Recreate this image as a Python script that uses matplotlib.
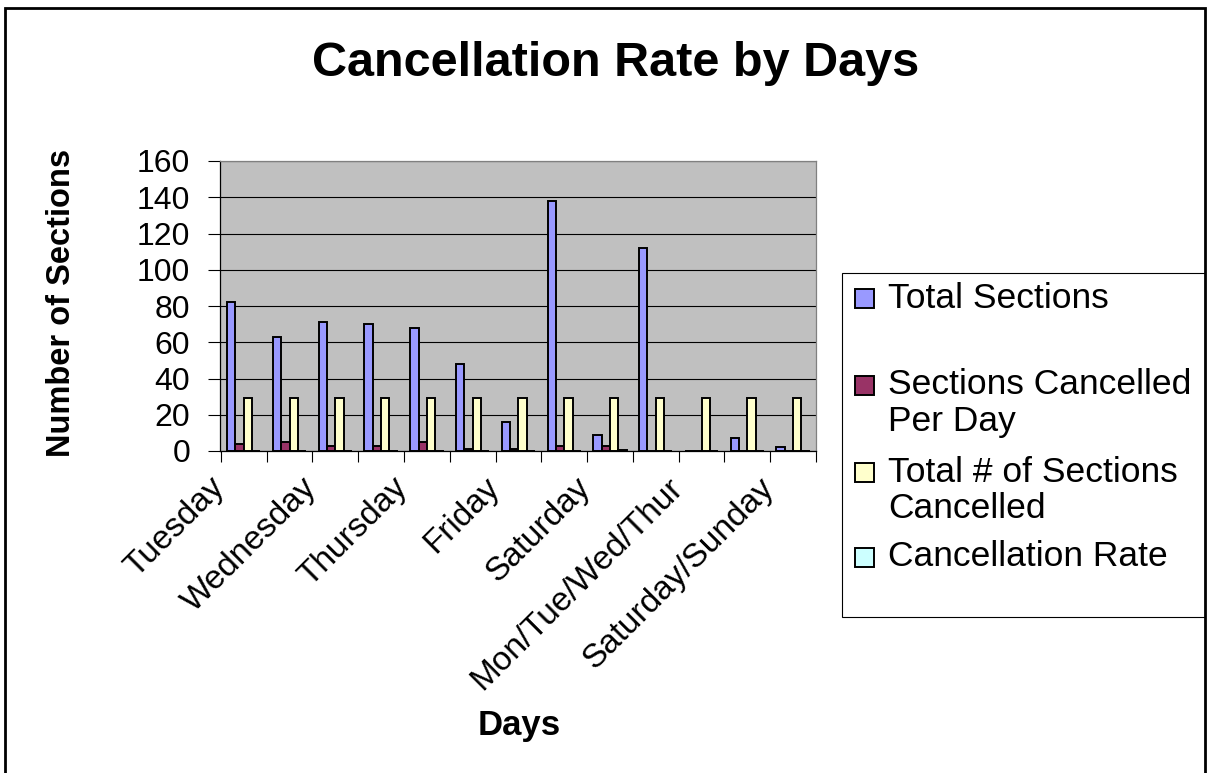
import numpy as np
import matplotlib.pyplot as plt
from matplotlib.patches import Rectangle

plt.rcParams['font.family'] = ['Liberation Sans', 'DejaVu Sans']

# only every other category carries a visible label in the original chart
day_labels = ['Tuesday', 'Wednesday', 'Thursday', 'Friday', 'Saturday',
              'Mon/Tue/Wed/Thur', 'Saturday/Sunday']
total_sections = [82, 63, 71, 70, 68, 48, 16, 138, 9, 112, 0, 7, 2]
cancelled_per_day = [4, 5, 3, 3, 5, 1, 1, 3, 3, 0, 0, 0, 0]
total_cancelled = [29, 29, 29, 29, 29, 29, 29, 29, 29, 29, 29, 29, 29]
cancel_rate = [0.05, 0.08, 0.04, 0.04, 0.07, 0.02, 0.06, 0.02, 0.33, 0, 0, 0, 0]

series_names = ['Total Sections', 'Sections Cancelled\nPer Day',
                'Total # of Sections\nCancelled', 'Cancellation Rate']
colors = ['#9999FF', '#993366', '#FFFFCC', '#CCFFFF']

W, H = 1209, 773
fig = plt.figure(figsize=(W / 100, H / 100), dpi=100)


def fx(px):
    return px / W


def fy(py):
    return 1 - py / H


ax = fig.add_axes([fx(220), fy(451), (816 - 220) / W, (451 - 161) / H])
ax.set_facecolor('#C0C0C0')

x = np.arange(len(total_sections))
width = 1 / 5.5
all_series = [total_sections, cancelled_per_day, total_cancelled, cancel_rate]
for k, (vals, col) in enumerate(zip(all_series, colors)):
    ax.bar(x + (k - 1.5) * width, vals, width, color=col,
           edgecolor='black', linewidth=1.4, zorder=3)

ax.set_xlim(-0.5, len(x) - 0.5)
ax.set_ylim(0, 160)
ax.set_yticks(range(0, 161, 20))
ax.yaxis.grid(True, color='black', linewidth=0.8)
ax.set_axisbelow(True)

ax.set_xticks(np.arange(-0.5, len(x), 1))
ax.set_xticklabels([])
ax.set_xticks(x[::2] - 0.52, minor=True, labels=day_labels)
ax.tick_params(axis='x', which='major', length=8, direction='out', width=0.8)
ax.tick_params(axis='x', which='minor', length=0, pad=23, labelsize=24)
for lbl in ax.get_xticklabels(minor=True):
    lbl.set_rotation(45)
    lbl.set_ha('right')
    lbl.set_va('center')
    lbl.set_rotation_mode('anchor')
ax.tick_params(axis='y', length=8.5, pad=13, labelsize=23, width=0.8)

for s in ['left', 'bottom']:
    ax.spines[s].set_color('black')
    ax.spines[s].set_linewidth(0.9)
for s in ['top', 'right']:
    ax.spines[s].set_color('#808080')
    ax.spines[s].set_linewidth(0.9)

fig.text(fx(616), fy(63), 'Cancellation Rate by Days', ha='center', va='center',
         fontsize=35, fontweight='bold')
fig.text(fx(62), fy(303), 'Number of Sections', ha='center', va='center',
         rotation=90, fontsize=23.5, fontweight='bold')
fig.text(fx(519), fy(726), 'Days', ha='center', va='center',
         fontsize=25, fontweight='bold')

# legend box drawn like the Excel one
fig.patches.append(Rectangle((fx(842), fy(617)), (1205 - 842) / W, (617 - 273) / H,
                             transform=fig.transFigure, fill=False,
                             edgecolor='black', linewidth=0.8))
first_line_y = [298, 385, 472, 557]
for name, col, ly in zip(series_names, colors, first_line_y):
    fig.patches.append(Rectangle((fx(855), fy(ly + 10)), 19 / W, 19 / H,
                                 transform=fig.transFigure, facecolor=col,
                                 edgecolor='black', linewidth=1.4))
    for j, line in enumerate(name.split('\n')):
        fig.text(fx(888), fy(ly + 37 * j), line, ha='left', va='center',
                 fontsize=25.5)

# outer chart border
fig.patches.append(Rectangle((fx(5), -0.05), (1205 - 5) / W, fy(8) + 0.05,
                             transform=fig.transFigure, fill=False,
                             edgecolor='black', linewidth=2))

fig.savefig('out.png', dpi=100)
